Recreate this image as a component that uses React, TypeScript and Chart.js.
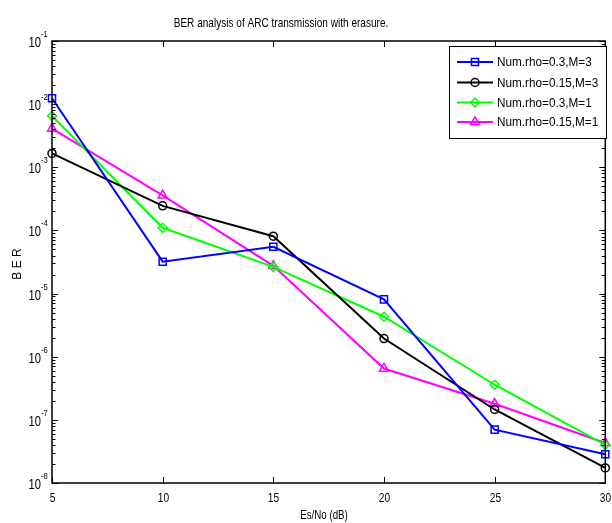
import React, { useEffect, useRef } from 'react';
import { Chart, registerables } from 'chart.js';

Chart.register(...registerables);

// ---- data ----
const esNoDb = [5, 10, 15, 20, 25, 30];
const berRho03M3 = [1.24e-2, 3.2e-5, 5.5e-5, 8.1e-6, 7.0e-8, 2.85e-8];
const berRho015M3 = [1.66e-3, 2.45e-4, 8.1e-5, 1.94e-6, 1.46e-7, 1.73e-8];
const berRho03M1 = [6.5e-3, 1.1e-4, 2.65e-5, 4.3e-6, 3.6e-7, 4.0e-8];
const berRho015M1 = [4.1e-3, 3.6e-4, 2.75e-5, 6.5e-7, 1.8e-7, 4.3e-8];
const seriesNames = ['Num.rho=0.3,M=3', 'Num.rho=0.15,M=3', 'Num.rho=0.3,M=1', 'Num.rho=0.15,M=1'];
const xTickValues = [5, 10, 15, 20, 25, 30];
const yTickExponents = [-1, -2, -3, -4, -5, -6, -7, -8];
const titleText = 'BER analysis of ARC transmission with erasure.';
const xAxisLabel = 'Es/No (dB)';
const yAxisLabel = 'B E R';

// ---- styles ----
const FONT = '"Liberation Sans", Arial, Helvetica, sans-serif';
const seriesStyles = [
  { color: '#0000ff', marker: 'rect', radius: 5 },
  { color: '#000000', marker: 'circle', radius: 4 },
  { color: '#00ff00', marker: 'rectRot', radius: 4.5 },
  { color: '#ff00ff', marker: 'triangle', radius: 5.2 },
];

function squeezeText(
  ctx: CanvasRenderingContext2D,
  text: string,
  x: number,
  y: number,
  size: number,
  sx: number,
  align: CanvasTextAlign,
  rotate = 0
) {
  ctx.save();
  ctx.font = `${size}px ${FONT}`;
  ctx.textAlign = align;
  ctx.textBaseline = 'middle';
  ctx.translate(x, y);
  if (rotate) ctx.rotate(rotate);
  ctx.scale(sx, 1);
  ctx.fillText(text, 0, 0);
  ctx.restore();
}

function drawMarker(ctx: CanvasRenderingContext2D, style: string, x: number, y: number, r: number) {
  ctx.beginPath();
  if (style === 'rect') {
    const s = Math.SQRT1_2 * r;
    ctx.rect(x - s, y - s, 2 * s, 2 * s);
  } else if (style === 'circle') {
    ctx.arc(x, y, r, 0, Math.PI * 2);
  } else if (style === 'rectRot') {
    ctx.moveTo(x, y - r);
    ctx.lineTo(x + r, y);
    ctx.lineTo(x, y + r);
    ctx.lineTo(x - r, y);
    ctx.closePath();
  } else if (style === 'triangle') {
    let a = 0;
    ctx.moveTo(x + Math.sin(a) * r, y - Math.cos(a) * r);
    a += (2 * Math.PI) / 3;
    ctx.lineTo(x + Math.sin(a) * r, y - Math.cos(a) * r);
    a += (2 * Math.PI) / 3;
    ctx.lineTo(x + Math.sin(a) * r, y - Math.cos(a) * r);
    ctx.closePath();
  }
  ctx.stroke();
}

const decorPlugin = {
  id: 'matlabDecor',
  afterDraw(chart: any) {
    const { ctx, chartArea: a, scales } = chart;
    const xs = scales.x;
    const ys = scales.y;
    ctx.save();
    ctx.strokeStyle = '#000';
    ctx.fillStyle = '#000';

    // axes box
    ctx.lineWidth = 1.5;
    ctx.strokeRect(a.left, a.top, a.right - a.left, a.bottom - a.top);

    // x ticks + labels
    ctx.lineWidth = 1;
    for (const v of xTickValues) {
      const px = Math.round(xs.getPixelForValue(v)) + 0.5;
      ctx.beginPath();
      ctx.moveTo(px, a.bottom);
      ctx.lineTo(px, a.bottom - 6);
      ctx.moveTo(px, a.top);
      ctx.lineTo(px, a.top + 6);
      ctx.stroke();
      squeezeText(ctx, String(v), px, a.bottom + 15, 13, 0.78, 'center');
    }

    // y major ticks + labels
    for (const e of yTickExponents) {
      const py = Math.round(ys.getPixelForValue(Math.pow(10, e))) + 0.5;
      ctx.beginPath();
      ctx.moveTo(a.left, py);
      ctx.lineTo(a.left + 6, py);
      ctx.moveTo(a.right, py);
      ctx.lineTo(a.right - 6, py);
      ctx.stroke();
      squeezeText(ctx, '10', a.left - 11, py + 1.5, 14, 0.8, 'right');
      squeezeText(ctx, String(e), a.left - 11, py - 6.5, 9, 0.85, 'left');
    }

    // y minor ticks
    for (const e of yTickExponents) {
      if (e === -1) continue;
      for (let m = 2; m <= 9; m++) {
        const py = Math.round(ys.getPixelForValue(m * Math.pow(10, e))) + 0.5;
        ctx.beginPath();
        ctx.moveTo(a.left, py);
        ctx.lineTo(a.left + 3.5, py);
        ctx.moveTo(a.right, py);
        ctx.lineTo(a.right - 3.5, py);
        ctx.stroke();
      }
    }

    // title and axis labels
    squeezeText(ctx, titleText, 281, 23, 13.5, 0.745, 'center');
    squeezeText(ctx, xAxisLabel, 324, 515, 13, 0.75, 'center');
    squeezeText(ctx, yAxisLabel, 18, 264, 12, 1, 'center', -Math.PI / 2);

    // legend
    const lx = 449.5;
    const ly = 46.5;
    const lw = 157;
    const lh = 92;
    ctx.fillStyle = '#fff';
    ctx.fillRect(lx, ly, lw, lh);
    ctx.strokeStyle = '#000';
    ctx.lineWidth = 1;
    ctx.strokeRect(lx, ly, lw, lh);
    const rowYs = [62, 82.5, 102.5, 122];
    seriesNames.forEach((name, i) => {
      const st = seriesStyles[i];
      const ry = rowYs[i];
      ctx.strokeStyle = st.color;
      ctx.lineWidth = 2;
      ctx.beginPath();
      ctx.moveTo(457, ry);
      ctx.lineTo(493, ry);
      ctx.stroke();
      ctx.lineWidth = 1.5;
      drawMarker(ctx, st.marker, 475, ry, st.radius);
      ctx.fillStyle = '#000';
      squeezeText(ctx, name, 497, ry + 0.5, 13.5, 0.87, 'left');
    });
    ctx.restore();
  },
};

export default function App() {
  const canvasRef = useRef<HTMLCanvasElement | null>(null);

  useEffect(() => {
    document.body.style.margin = '0';
    const canvas = canvasRef.current;
    if (!canvas) return;
    const seriesValues = [berRho03M3, berRho015M3, berRho03M1, berRho015M1];
    const chart = new Chart(canvas, {
      type: 'line',
      data: {
        datasets: seriesValues.map((vals, i) => ({
          label: seriesNames[i],
          data: esNoDb.map((x, j) => ({ x, y: vals[j] })),
          borderColor: seriesStyles[i].color,
          backgroundColor: 'rgba(0,0,0,0)',
          borderWidth: 2,
          pointStyle: seriesStyles[i].marker as any,
          pointRadius: seriesStyles[i].radius,
          pointBorderWidth: 1.5,
          pointBorderColor: seriesStyles[i].color,
          pointBackgroundColor: 'rgba(0,0,0,0)',
          tension: 0,
          fill: false,
          clip: false as any,
        })),
      },
      options: {
        responsive: false,
        animation: false,
        devicePixelRatio: 1,
        layout: { padding: { left: 52, right: 5, top: 41, bottom: 40 } },
        plugins: {
          legend: { display: false },
          title: { display: false },
          tooltip: { enabled: false },
        },
        scales: {
          x: { type: 'linear', min: 5, max: 30, display: false },
          y: { type: 'logarithmic', min: 1e-8, max: 1e-1, display: false },
        },
      },
      plugins: [decorPlugin],
    });
    return () => chart.destroy();
  }, []);

  return <canvas ref={canvasRef} width={612} height={523} style={{ display: 'block' }} />;
}
